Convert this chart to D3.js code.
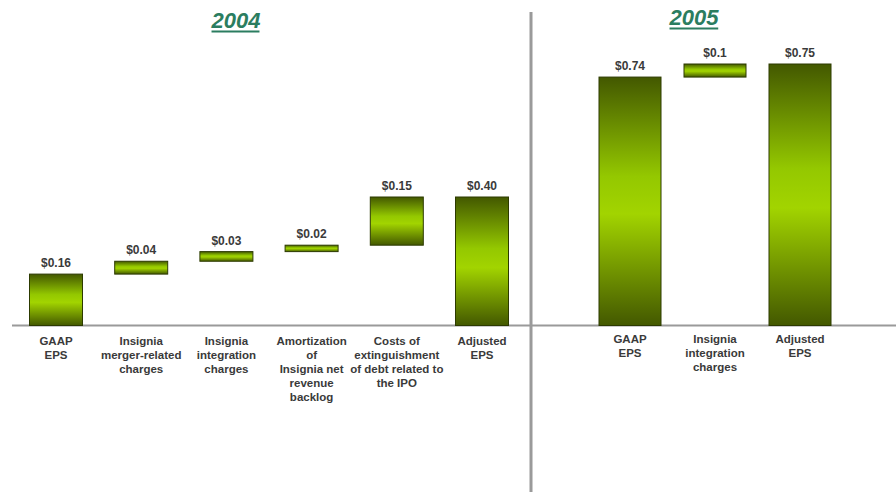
<!DOCTYPE html>
<html>
<head>
<meta charset="utf-8">
<script src="https://cdn.jsdelivr.net/npm/d3@7/dist/d3.min.js"></script>
<style>
  html, body { margin: 0; padding: 0; background: #ffffff; }
  svg { display: block; }
  text { font-family: "Liberation Sans", Arial, sans-serif; }
</style>
</head>
<body>
<svg id="chart" width="896" height="492"></svg>
<script>
// ---- data: EPS bridge, 2004 ----
const cats2004 = [
  ["GAAP", "EPS"],
  ["Insignia", "merger-related", "charges"],
  ["Insignia", "integration", "charges"],
  ["Amortization", "of", "Insignia net", "revenue", "backlog"],
  ["Costs of", "extinguishment", "of debt related to", "the IPO"],
  ["Adjusted", "EPS"]
];
const values2004 = [0.16, 0.04, 0.03, 0.02, 0.15, 0.40];
const kinds2004  = ["total", "step", "step", "step", "step", "total"];
const labels2004 = ["$0.16", "$0.04", "$0.03", "$0.02", "$0.15", "$0.40"];

// ---- data: EPS bridge, 2005 ----
const cats2005 = [
  ["GAAP", "EPS"],
  ["Insignia", "integration", "charges"],
  ["Adjusted", "EPS"]
];
const values2005 = [0.74, 0.01, 0.75];
const kinds2005  = ["total", "step", "total"];
const labels2005 = ["$0.74", "$0.1", "$0.75"];

const titles = ["2004", "2005"];

const svg = d3.select("#chart");
const baseY = 325.5;

// vertical gradient: dark olive edges, bright lime centre
const defs = svg.append("defs");
const grad = defs.append("linearGradient")
  .attr("id", "barGrad").attr("x1", 0).attr("y1", 0).attr("x2", 0).attr("y2", 1);
grad.append("stop").attr("offset", "0%").attr("stop-color", "#435800");
grad.append("stop").attr("offset", "40%").attr("stop-color", "#94c800");
grad.append("stop").attr("offset", "55%").attr("stop-color", "#a2d400");
grad.append("stop").attr("offset", "100%").attr("stop-color", "#435800");

// turn value lists into waterfall segments
function segments(values, kinds) {
  let run = 0;
  return values.map((v, i) => {
    let lo, hi;
    if (kinds[i] === "total") { lo = null; hi = v; run = v; }
    else { lo = run; hi = run + v; run = hi; }
    return { i, lo, hi };
  });
}

function drawPanel(cfg) {
  const g = svg.append("g");
  const x = d3.scalePoint().domain(d3.range(cfg.values.length)).range(cfg.xRange);
  const y = d3.scaleLinear().domain(cfg.yDomain).range([baseY, cfg.yTop]);
  const segs = segments(cfg.values, cfg.kinds);

  // baseline
  g.append("line")
    .attr("x1", cfg.axisX[0]).attr("x2", cfg.axisX[1])
    .attr("y1", baseY).attr("y2", baseY)
    .attr("stroke", "#9a9a9a").attr("stroke-width", 2);

  // bars
  g.selectAll("rect.bar").data(segs).enter().append("rect")
    .attr("class", "bar")
    .attr("x", d => x(d.i) - cfg.barW / 2)
    .attr("width", cfg.barW)
    .attr("y", d => y(d.hi))
    .attr("height", d => (d.lo === null ? baseY : y(d.lo)) - y(d.hi))
    .attr("fill", "url(#barGrad)")
    .attr("stroke", "#2c3a00").attr("stroke-width", 1);

  // value labels
  g.selectAll("text.val").data(segs).enter().append("text")
    .attr("class", "val")
    .attr("x", d => x(d.i))
    .attr("y", d => y(d.hi) - 7)
    .attr("text-anchor", "middle")
    .attr("font-size", 12).attr("font-weight", "bold")
    .attr("fill", "#3a3a3a")
    .text(d => cfg.labels[d.i]);

  // category labels
  const cl = g.selectAll("text.cat").data(cfg.cats).enter().append("text")
    .attr("class", "cat")
    .attr("x", (d, i) => x(i))
    .attr("y", cfg.catY)
    .attr("text-anchor", "middle")
    .attr("font-size", 11.5).attr("font-weight", "bold")
    .attr("fill", "#3a3a3a");
  cl.selectAll("tspan").data((d, i) => d.map(s => ({ s, i }))).enter().append("tspan")
    .attr("x", d => x(d.i))
    .attr("dy", (d, k) => k === 0 ? 0 : 14)
    .text(d => d.s);

  // panel title
  const t = g.append("text")
    .attr("x", cfg.titleX).attr("y", cfg.titleY)
    .attr("text-anchor", "middle")
    .attr("font-size", 22).attr("font-weight", "bold").attr("font-style", "italic")
    .attr("fill", "#2b7d60")
    .text(cfg.title);
  const bb = t.node().getBBox();
  g.append("line")
    .attr("x1", bb.x + 1).attr("x2", bb.x + bb.width - 1)
    .attr("y1", cfg.titleY + 3.5).attr("y2", cfg.titleY + 3.5)
    .attr("stroke", "#2b7d60").attr("stroke-width", 2);
}

drawPanel({
  values: values2004, kinds: kinds2004, labels: labels2004, cats: cats2004,
  xRange: [56, 482], barW: 53, yDomain: [0, 0.40], yTop: 197,
  axisX: [12, 531], catY: 345, title: titles[0], titleX: 236, titleY: 28
});

drawPanel({
  values: values2005, kinds: kinds2005, labels: labels2005, cats: cats2005,
  xRange: [630, 800], barW: 62, yDomain: [0.55, 0.75], yTop: 64,
  axisX: [531, 896], catY: 343, title: titles[1], titleX: 694, titleY: 25
});

// divider between the two years
svg.append("line")
  .attr("x1", 531).attr("x2", 531).attr("y1", 12).attr("y2", 492)
  .attr("stroke", "#9a9a9a").attr("stroke-width", 3);
</script>
</body>
</html>
